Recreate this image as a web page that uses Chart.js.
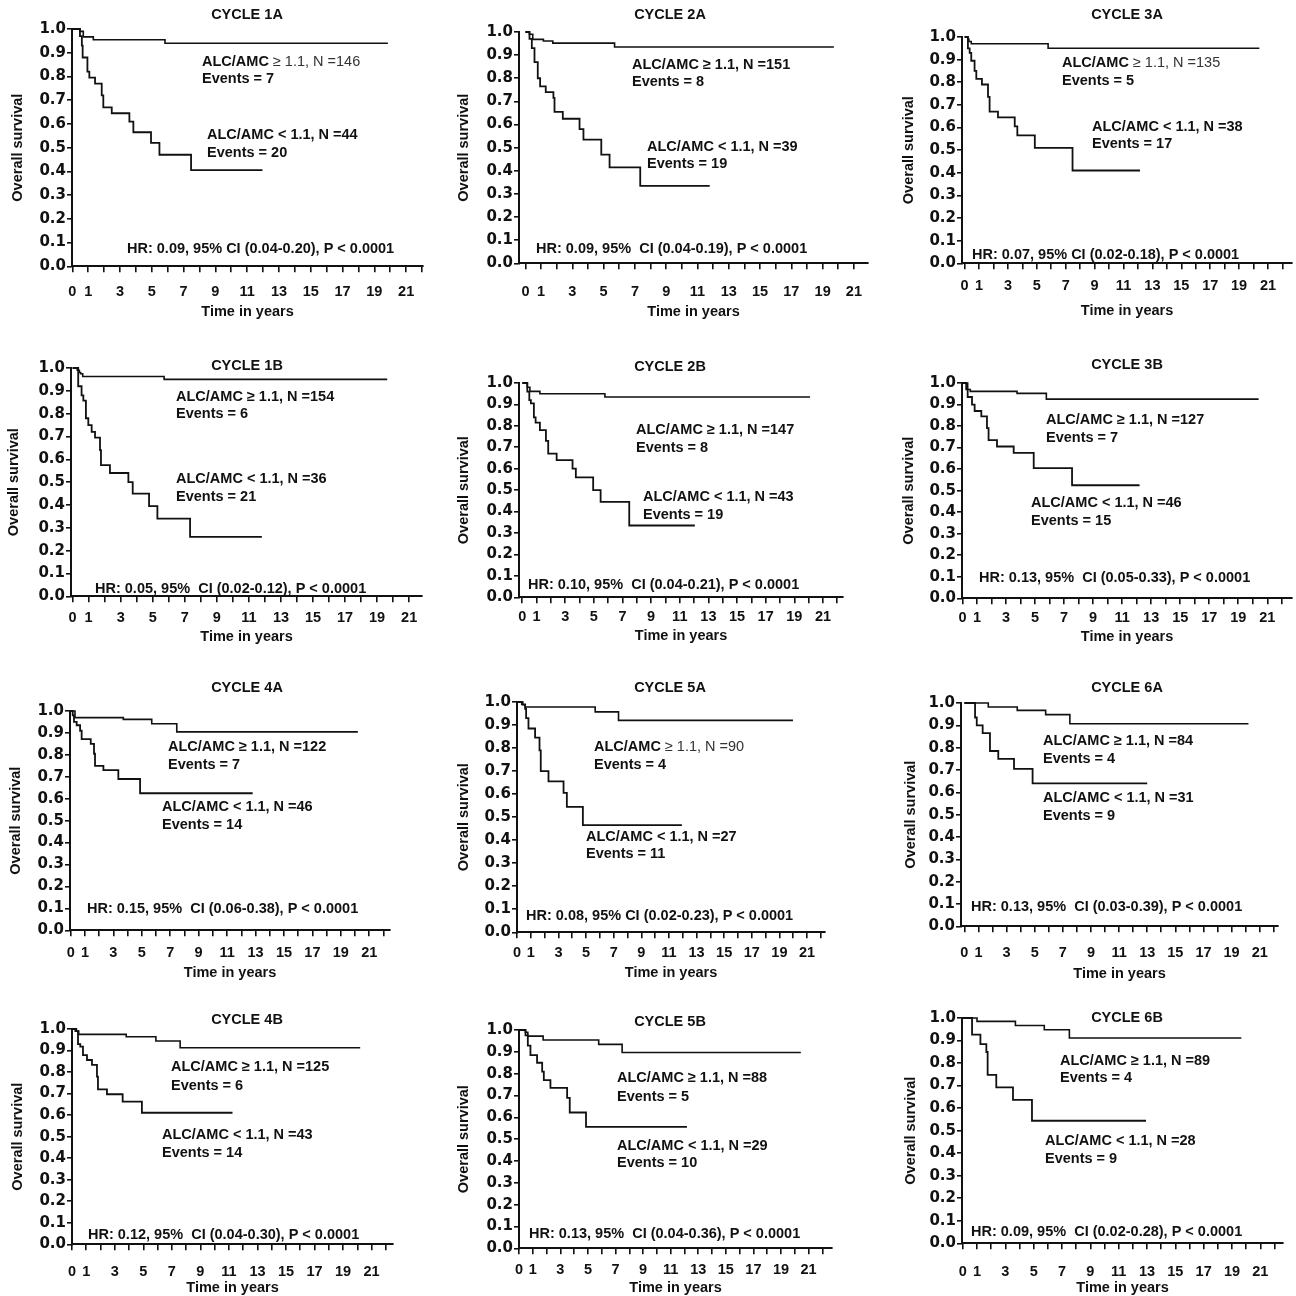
<!DOCTYPE html>
<html><head><meta charset="utf-8">
<script src="https://cdn.jsdelivr.net/npm/chart.js@4"></script>
<style>
html,body{margin:0;padding:0;background:#fff;overflow:hidden;}
#wrap{position:relative;width:1296px;height:1296px;overflow:hidden;}
canvas{position:absolute;}
</style></head><body><div id="wrap"></div>
<script>
// ---------- DATA ----------
const titles = ['CYCLE 1A','CYCLE 2A','CYCLE 3A','CYCLE 1B','CYCLE 2B','CYCLE 3B','CYCLE 4A','CYCLE 5A','CYCLE 6A','CYCLE 4B','CYCLE 5B','CYCLE 6B'];
const nHigh  = [146,151,135,154,147,127,122,90,84,125,88,89];
const evHigh = [7,8,5,6,8,7,7,4,4,6,5,4];
const nLow   = [44,39,38,36,43,46,46,27,31,43,29,28];
const evLow  = [20,19,17,21,19,15,14,11,9,14,10,9];
const hrText = [
 'HR: 0.09, 95% CI (0.04-0.20), P < 0.0001',
 'HR: 0.09, 95%  CI (0.04-0.19), P < 0.0001',
 'HR: 0.07, 95% CI (0.02-0.18), P < 0.0001',
 'HR: 0.05, 95%  CI (0.02-0.12), P < 0.0001',
 'HR: 0.10, 95%  CI (0.04-0.21), P < 0.0001',
 'HR: 0.13, 95%  CI (0.05-0.33), P < 0.0001',
 'HR: 0.15, 95%  CI (0.06-0.38), P < 0.0001',
 'HR: 0.08, 95% CI (0.02-0.23), P < 0.0001',
 'HR: 0.13, 95%  CI (0.03-0.39), P < 0.0001',
 'HR: 0.12, 95%  CI (0.04-0.30), P < 0.0001',
 'HR: 0.13, 95%  CI (0.04-0.36), P < 0.0001',
 'HR: 0.09, 95%  CI (0.02-0.28), P < 0.0001'
];
const xTickLabels = [0,1,3,5,7,9,11,13,15,17,19,21];
const yTickLabels = ['0.0','0.1','0.2','0.3','0.4','0.5','0.6','0.7','0.8','0.9','1.0'];

// survival curves: time in years / overall survival (ALC/AMC >= 1.1 = hi, < 1.1 = lo)
const t1A_hi = [0,0.48,0.69,1.32,5.83,19.85];
const s1A_hi = [1,0.99,0.967,0.955,0.94,0.94];
const t1A_lo = [0,0.48,0.6,0.65,0.95,1.07,1.43,1.85,1.95,2.48,3.59,3.84,4.95,5.48,7.47,11.96];
const s1A_lo = [1,0.97,0.93,0.88,0.82,0.795,0.77,0.72,0.67,0.645,0.61,0.565,0.52,0.47,0.405,0.405];

const t2A_hi = [0,0.26,0.47,1.15,1.75,5.7,19.72];
const s2A_hi = [1,0.99,0.968,0.961,0.952,0.935,0.935];
const t2A_lo = [0,0.26,0.41,0.58,0.79,0.94,1.3,1.79,1.86,2.39,3.46,3.71,4.85,5.38,7.34,11.78];
const s2A_lo = [1,0.97,0.93,0.87,0.80,0.765,0.74,0.715,0.655,0.625,0.58,0.535,0.47,0.415,0.335,0.335];

const t3A_hi = [0,0.23,0.3,0.46,5.78,20.4];
const s3A_hi = [1,0.99,0.98,0.97,0.95,0.95];
const t3A_lo = [0,0.23,0.35,0.46,0.69,0.81,1.2,1.62,1.73,2.31,3.47,3.65,4.86,7.47,12.14];
const s3A_lo = [1,0.95,0.93,0.895,0.85,0.815,0.79,0.735,0.67,0.645,0.605,0.565,0.51,0.41,0.41];

const t1B_hi = [0,0.29,0.42,0.5,0.63,5.71,19.63];
const s1B_hi = [1,0.99,0.98,0.975,0.963,0.95,0.95];
const t1B_lo = [0,0.35,0.56,0.67,0.83,0.98,1.19,1.4,1.71,1.77,2.33,3.48,3.75,4.77,5.29,7.33,11.81];
const s1B_lo = [1,0.92,0.88,0.857,0.78,0.75,0.72,0.695,0.64,0.575,0.54,0.5,0.45,0.395,0.34,0.26,0.26];

const t2B_hi = [0,0.35,0.53,1.23,5.77,20.1];
const s2B_hi = [1,0.98,0.961,0.95,0.935,0.935];
const t2B_lo = [0,0.35,0.49,0.6,0.81,0.93,1.23,1.65,1.81,2.4,3.51,3.74,4.95,5.47,7.47,12.05];
const s2B_lo = [1,0.96,0.92,0.905,0.84,0.815,0.78,0.73,0.67,0.64,0.60,0.56,0.50,0.445,0.335,0.335];

const t3B_hi = [0,0.36,0.54,3.76,5.78,20.4];
const s3B_hi = [1,0.97,0.961,0.952,0.925,0.925];
const t3B_lo = [0,0.26,0.36,0.66,0.84,1.3,1.69,1.8,2.38,3.53,4.91,7.55,12.2];
const s3B_lo = [1,0.97,0.935,0.90,0.87,0.845,0.79,0.735,0.705,0.675,0.605,0.525,0.525];

const t4A_hi = [0,0.3,3.7,5.7,7.46,20.2];
const s4A_hi = [1,0.97,0.962,0.942,0.905,0.905];
const t4A_lo = [0,0.14,0.23,0.42,0.66,0.77,1.41,1.64,1.71,2.3,3.35,4.88,12.8];
const s4A_lo = [1,0.98,0.95,0.935,0.91,0.872,0.85,0.805,0.75,0.73,0.69,0.625,0.625];

const t5A_hi = [0,0.42,0.59,5.66,7.35,19.98];
const s5A_hi = [1,0.988,0.978,0.957,0.92,0.92];
const t5A_lo = [0,0.35,0.59,0.66,0.83,1.31,1.63,1.72,2.28,3.37,3.61,4.77,11.94];
const s5A_lo = [1,0.99,0.97,0.93,0.885,0.845,0.79,0.70,0.655,0.605,0.545,0.465,0.465];

const t6A_hi = [0,1.7,3.76,5.78,7.5,20.2];
const s6A_hi = [1,0.982,0.967,0.948,0.907,0.907];
const t6A_lo = [0,0.76,0.88,1.3,1.82,2.41,3.53,4.85,13.0];
const s6A_lo = [1,0.935,0.90,0.865,0.785,0.75,0.705,0.64,0.64];

const t4B_hi = [0,0.23,0.47,3.8,5.88,7.58,20.2];
const s4B_hi = [1,0.99,0.975,0.964,0.944,0.913,0.913];
const t4B_lo = [0,0.3,0.42,0.58,0.77,1.05,1.4,1.75,1.82,2.45,3.55,4.9,11.25];
const s4B_lo = [1,0.99,0.93,0.918,0.879,0.856,0.833,0.779,0.72,0.697,0.663,0.611,0.611];

const t5B_hi = [0,0.47,0.64,1.75,5.78,7.48,20.44];
const s5B_hi = [1,0.99,0.972,0.954,0.934,0.897,0.897];
const t5B_lo = [0,0.47,0.64,0.83,1.31,1.68,1.8,2.28,3.49,3.68,4.86,12.18];
const s5B_lo = [1,0.975,0.928,0.885,0.85,0.809,0.77,0.735,0.689,0.622,0.556,0.556];

const t6B_hi = [0,1.0,3.71,5.75,7.52,19.66];
const s6B_hi = [1,0.985,0.967,0.948,0.911,0.911];
const t6B_lo = [0,0.65,1.24,1.66,1.75,2.36,3.54,4.88,12.93];
const s6B_lo = [1,0.926,0.884,0.849,0.748,0.692,0.637,0.544,0.544];

const curves = [
 [t1A_hi,s1A_hi,t1A_lo,s1A_lo],[t2A_hi,s2A_hi,t2A_lo,s2A_lo],[t3A_hi,s3A_hi,t3A_lo,s3A_lo],
 [t1B_hi,s1B_hi,t1B_lo,s1B_lo],[t2B_hi,s2B_hi,t2B_lo,s2B_lo],[t3B_hi,s3B_hi,t3B_lo,s3B_lo],
 [t4A_hi,s4A_hi,t4A_lo,s4A_lo],[t5A_hi,s5A_hi,t5A_lo,s5A_lo],[t6A_hi,s6A_hi,t6A_lo,s6A_lo],
 [t4B_hi,s4B_hi,t4B_lo,s4B_lo],[t5B_hi,s5B_hi,t5B_lo,s5B_lo],[t6B_hi,s6B_hi,t6B_lo,s6B_lo]
];

// ---------- LAYOUT (page pixels) ----------
const layout = [
 {l:72, t:29, b:266,r:423, xmin:-0.02,xmax:22.06,tx:247, ty:15,  yo:54,  tg:26,mg:46,hx:202, hy:62,  hey:79,  lx:207, ly:135, ley:153, rx:127,ry:249, thin:true},
 {l:519,t:32, b:263,r:868, xmin:-0.41,xmax:21.9, tx:670, ty:15,  yo:55,  tg:29,mg:49,hx:632, hy:65,  hey:82,  lx:647, ly:147, ley:164, rx:536,ry:249},
 {l:962,t:37, b:263,r:1292,xmin:-0.18,xmax:22.66,tx:1127,ty:15,  yo:53,  tg:23,mg:48,hx:1062,hy:63,  hey:81,  lx:1092,ly:127, ley:144, rx:972,ry:255, thin:true},
 {l:71, t:368,b:596,r:422, xmin:-0.1, xmax:21.8, tx:247, ty:366, yo:57,  tg:22,mg:41,hx:176, hy:397, hey:414, lx:176, ly:479, ley:497, rx:95, ry:589},
 {l:519,t:383,b:597,r:843, xmin:-0.23,xmax:22.4, tx:670, ty:367, yo:55,  tg:20,mg:39,hx:636, hy:430, hey:448, lx:643, ly:497, ley:515, rx:528,ry:585},
 {l:962,t:383,b:598,r:1292,xmin:-0.03,xmax:22.7, tx:1127,ty:365, yo:53,  tg:20,mg:39,hx:1046,hy:420, hey:438, lx:1031,ly:503, ley:521, rx:979,ry:578},
 {l:70, t:711,b:930,r:390, xmin:-0.05,xmax:22.46,tx:247, ty:688, yo:54.5,tg:23,mg:43,hx:168, hy:747, hey:765, lx:162, ly:807, ley:825, rx:87, ry:909},
 {l:517,t:702,b:932,r:825, xmin:0,    xmax:22.3, tx:670, ty:688, yo:53,  tg:21,mg:41,hx:594, hy:747, hey:765, lx:586, ly:837, ley:854, rx:526,ry:916, thin:true},
 {l:961,t:703,b:926,r:1278,xmin:-0.24,xmax:22.3, tx:1127,ty:688, yo:50,  tg:27,mg:48,hx:1043,hy:741, hey:759, lx:1043,ly:798, ley:816, rx:971,ry:907},
 {l:72, t:1029,b:1244,r:393,xmin:0,   xmax:22.5, tx:247, ty:1020,yo:54,  tg:28,mg:44,hx:171, hy:1067,hey:1086,lx:162, ly:1135,ley:1153,rx:88, ry:1235},
 {l:519,t:1030,b:1248,r:832,xmin:0,   xmax:22.7, tx:670, ty:1022,yo:55,  tg:22,mg:40,hx:617, hy:1078,hey:1097,lx:617, ly:1146,ley:1163,rx:529,ry:1234},
 {l:962,t:1018,b:1243,r:1283,xmin:-0.06,xmax:22.6,tx:1127,ty:1018,yo:51.5,tg:29,mg:45,hx:1060,hy:1061,hey:1078,lx:1045,ly:1141,ley:1159,rx:971,ry:1232}
];

const FAM = '"Liberation Sans", Arial, Helvetica, sans-serif';
const YFAM = '"DejaVu Sans", "Liberation Sans", sans-serif';
const FS = 14.5;         // text size
const TICKFS = 14.5;
const INK = '#111';
const YW = 68, PR = 12, TICKLEN = 6;

const wrap = document.getElementById('wrap');

function pts(t, s) { return t.map((v, k) => ({x: v, y: s[k]})); }

layout.forEach((L, i) => {
  const lh = FS * 1.2, tlh = TICKFS * 1.2;
  const cLeft = L.l - YW;
  const cTop = Math.min(L.ty - 14, L.t - 14);
  const XH = L.mg + lh / 2;
  const cW = (L.r + PR) - cLeft;
  const cH = (L.b + XH) - cTop;
  const cv = document.createElement('canvas');
  cv.width = Math.round(cW); cv.height = Math.round(cH);
  cv.style.left = cLeft + 'px'; cv.style.top = cTop + 'px';
  cv.style.width = Math.round(cW) + 'px'; cv.style.height = Math.round(cH) + 'px';
  wrap.appendChild(cv);

  const [th, sh, tl, sl] = curves[i];
  const txt = {
    id: 'txt' + i,
    afterDraw(chart) {
      const ctx = chart.ctx;
      ctx.save();
      ctx.fillStyle = INK;
      ctx.textBaseline = 'middle';
      const bold = 'bold ' + FS + 'px ' + FAM;
      ctx.font = bold;
      ctx.textAlign = 'center';
      ctx.fillText(titles[i], L.tx - cLeft, L.ty - cTop);
      ctx.textAlign = 'left';
      if (L.thin) {
        const head = 'ALC/AMC';
        ctx.fillText(head, L.hx - cLeft, L.hy - cTop);
        const w = ctx.measureText(head).width;
        ctx.font = FS + 'px ' + FAM;
        ctx.fillStyle = '#333';
        ctx.fillText(' \u2265 1.1, N =' + nHigh[i], L.hx - cLeft + w, L.hy - cTop);
        ctx.fillStyle = INK;
        ctx.font = bold;
      } else {
        ctx.fillText('ALC/AMC \u2265 1.1, N =' + nHigh[i], L.hx - cLeft, L.hy - cTop);
      }
      ctx.fillText('Events = ' + evHigh[i], L.hx - cLeft, L.hey - cTop);
      ctx.fillText('ALC/AMC < 1.1, N =' + nLow[i], L.lx - cLeft, L.ly - cTop);
      ctx.fillText('Events = ' + evLow[i], L.lx - cLeft, L.ley - cTop);
      ctx.fillText(hrText[i], L.rx - cLeft, L.ry - cTop);
      ctx.restore();
    }
  };

  new Chart(cv, {
    type: 'line',
    data: {
      datasets: [
        {label: 'ALC/AMC \u2265 1.1', data: pts(th, sh), stepped: true, borderColor: INK, borderWidth: 1.6, pointRadius: 0, fill: false, clip: false, tension: 0},
        {label: 'ALC/AMC < 1.1', data: pts(tl, sl), stepped: true, borderColor: INK, borderWidth: 1.8, pointRadius: 0, fill: false, clip: false, tension: 0}
      ]
    },
    options: {
      responsive: false, maintainAspectRatio: false, animation: false, devicePixelRatio: 1,
      events: [],
      layout: {padding: {left: 0, right: PR, top: L.t - cTop, bottom: 0}},
      plugins: {legend: {display: false}, tooltip: {enabled: false}, title: {display: false}},
      scales: {
        x: {
          type: 'linear', min: L.xmin, max: L.xmax,
          afterFit(s) { s.height = XH; },
          border: {display: true, color: INK, width: 2},
          grid: {display: true, drawOnChartArea: false, drawTicks: true, tickLength: TICKLEN, color: INK, lineWidth: 1.6},
          ticks: {stepSize: 1, maxTicksLimit: 100, autoSkip: false, maxRotation: 0, includeBounds: false,
                  padding: L.tg - TICKLEN - tlh / 2, color: INK,
                  font: {family: FAM, size: TICKFS, weight: 'bold'},
                  callback: (v) => xTickLabels.includes(v) ? String(v) : ''},
          title: {display: true, text: 'Time in years', color: INK, padding: {top: 0, bottom: 0},
                  font: {family: FAM, size: FS, weight: 'bold'}}
        },
        y: {
          type: 'linear', min: 0, max: 1,
          afterFit(s) { s.width = YW; },
          border: {display: true, color: INK, width: 2},
          grid: {display: true, drawOnChartArea: false, drawTicks: true, tickLength: 5, color: INK, lineWidth: 1.6},
          ticks: {stepSize: 0.1, maxTicksLimit: 100, autoSkip: false, padding: 1, color: INK,
                  font: {family: YFAM, size: 15, weight: 'bold'},
                  callback: (v, k) => yTickLabels[k]},
          title: {display: true, text: 'Overall survival', color: INK,
                  padding: {top: YW - L.yo - lh / 2, bottom: 0},
                  font: {family: FAM, size: FS, weight: 'bold'}}
        }
      }
    },
    plugins: [txt]
  });
});
</script></body></html>
